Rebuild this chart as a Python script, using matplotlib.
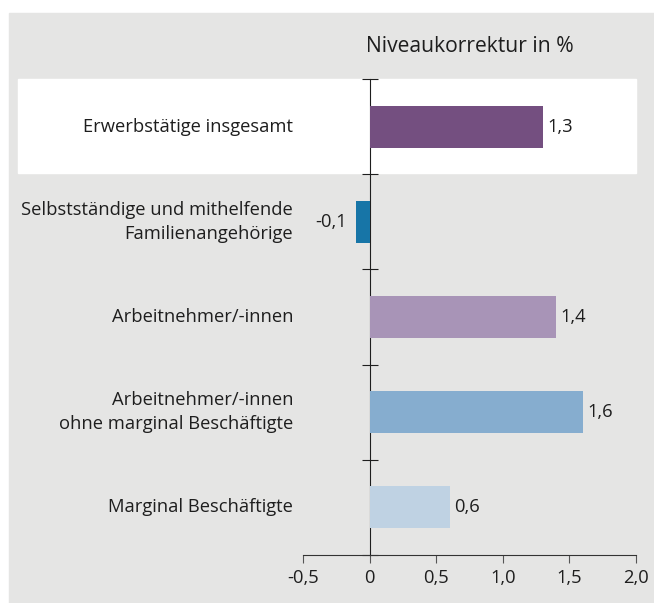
import matplotlib
matplotlib.use("Agg")
import matplotlib.pyplot as plt
from matplotlib.patches import Rectangle

# data
categories = ["Erwerbstätige insgesamt",
              "Selbstständige und mithelfende\nFamilienangehörige",
              "Arbeitnehmer/-innen",
              "Arbeitnehmer/-innen\nohne marginal Beschäftigte",
              "Marginal Beschäftigte"]
values = [1.3, -0.1, 1.4, 1.6, 0.6]
value_labels = ["1,3", "-0,1", "1,4", "1,6", "0,6"]
bar_colors = ["#744f80", "#1775a7", "#a894b7", "#86adcf", "#bfd2e3"]
xticks = [-0.5, 0, 0.5, 1.0, 1.5, 2.0]
xtick_labels = ["-0,5", "0", "0,5", "1,0", "1,5", "2,0"]
title = "Niveaukorrektur in %"

plt.rcParams['font.family'] = ['Open Sans', 'DejaVu Sans']
txt = "#1e1e1e"
bg = "#e5e5e4"
fs = 13.2

W, H = 654, 603
fig = plt.figure(figsize=(W / 100, H / 100), dpi=100)
fig.patch.set_facecolor("white")

# grey panel and white highlight band (pixel coords -> figure fraction)
fig.patches.append(Rectangle((9 / W, 0), (W - 9) / W, (H - 13) / H,
                             transform=fig.transFigure, color=bg, zorder=-2))
fig.patches.append(Rectangle((18 / W, 1 - 173 / H), (636 - 18) / W, (173 - 79) / H,
                             transform=fig.transFigure, color="white", zorder=-1))

ax = fig.add_axes([303 / W, 1 - 555 / H, (636 - 303) / W, (555 - 79) / H])
ax.set_zorder(2)
ax.patch.set_alpha(0)

ypos = list(range(len(categories)))
ax.barh(ypos, values, height=0.44, color=bar_colors, zorder=3)

ax.set_xlim(-0.5, 2.0)
ax.set_ylim(len(categories) - 0.5, -0.5)

for y, v, lab in zip(ypos, values, value_labels):
    if v >= 0:
        ax.text(v + 0.035, y, lab, ha="left", va="center", fontsize=fs, color=txt)
    else:
        ax.text(v - 0.07, y, lab, ha="right", va="center", fontsize=fs, color=txt)

for y, c in zip(ypos, categories):
    ax.text(-0.03, y, c, transform=ax.get_yaxis_transform(), ha="right", va="center",
            fontsize=fs, color=txt, multialignment="right", linespacing=1.45)

# spines: vertical axis at zero with separator ticks between categories
for s in ["top", "right"]:
    ax.spines[s].set_visible(False)
ax.spines["left"].set_position(("data", 0))
ax.spines["left"].set_color(txt)
ax.spines["bottom"].set_color("#333333")
ax.set_yticks([i - 0.5 for i in range(len(categories) + 1)])
ax.set_yticklabels([])
ax.tick_params(axis="y", direction="inout", length=12, color=txt)

ax.set_xticks(xticks)
ax.set_xticklabels(xtick_labels, fontsize=fs, color=txt)
ax.tick_params(axis="x", direction="out", length=6, color="#555555", pad=4)

fig.text((303 + 636) / 2 / W, 1 - 46 / H, title, ha="center", va="center",
         fontsize=15.2, color=txt)

fig.savefig("out.png", dpi=100)
